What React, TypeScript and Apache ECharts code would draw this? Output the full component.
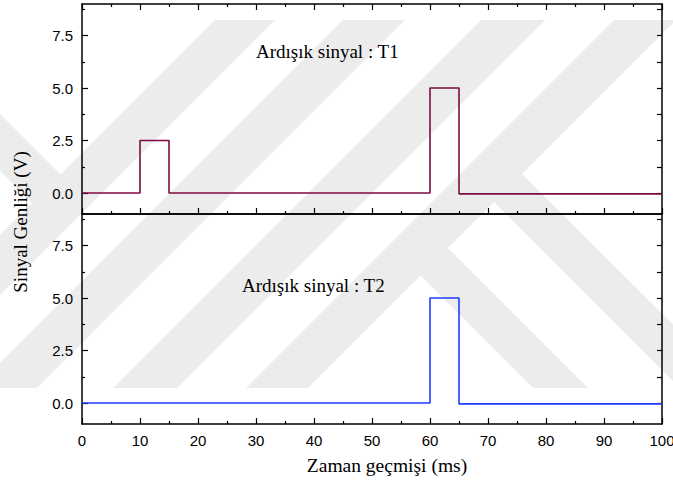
import { useEffect, useRef } from "react";
import * as echarts from "echarts";

// Step signals (time in ms, amplitude in V)
const timeT1 = [0, 10, 10, 15, 15, 60, 60, 65, 65, 100];
const voltT1 = [0, 0, 2.5, 2.5, 0, 0, 5, 5, -0.04, -0.04];
const timeT2 = [0, 60, 60, 65, 65, 100];
const voltT2 = [0, 0, 5, 5, -0.04, -0.04];

// Axis ticks
const yLabelValues = [0, 2.5, 5, 7.5];
const yMinorValues = [1.25, 3.75, 6.25, 8.75];
const yAllTicks = [0, 1.25, 2.5, 3.75, 5, 6.25, 7.5, 8.75];

const panelTitles = ["Ardışık sinyal : T1", "Ardışık sinyal : T2"];
const xAxisTitle = "Zaman geçmişi (ms)";
const yAxisTitle = "Sinyal Genliği (V)";

// Light background stripes (decorative)
const backdropBands: number[][][] = [
  [[215, 20], [275, 20], [-93, 388], [-153, 388]],
  [[343, 20], [405, 20], [37, 388], [-25, 388]],
  [[481, 20], [545, 20], [177, 388], [113, 388]],
  [[614, 20], [676, 20], [308, 388], [246, 388]],
  [[393, 248], [448, 248], [588, 388], [533, 388]],
  [[466, 174], [522, 174], [730, 381], [673, 381]],
  [[0, 114], [90, 204], [33, 204], [0, 171]],
];

const INK = "#000";
const SANS = "Liberation Sans";
const SERIF = "Liberation Serif";

function xAxisFor(grid: number, pos: "top" | "bottom", labels: boolean, ticks: boolean) {
  return {
    type: "value",
    gridIndex: grid,
    position: pos,
    min: 0,
    max: 100,
    interval: 10,
    splitLine: { show: false },
    axisLine: { show: true, onZero: false, lineStyle: { color: INK, width: 1.5 } },
    axisTick: { show: ticks, inside: true, length: 6, lineStyle: { color: INK, width: 1.2 } },
    minorTick: { show: ticks, splitNumber: 2, length: 3, lineStyle: { color: INK, width: 1.2 } },
    axisLabel: {
      show: labels,
      color: INK,
      fontFamily: SANS,
      fontSize: 15,
      margin: 9,
    },
  };
}

function yAxesFor(grid: number) {
  const base = {
    type: "value",
    gridIndex: grid,
    min: -1,
    max: 9,
    splitLine: { show: false },
  };
  return [
    {
      ...base,
      position: "left",
      axisLine: { show: true, onZero: false, lineStyle: { color: INK, width: 1.5 } },
      axisTick: {
        show: true,
        inside: true,
        length: 6,
        customValues: yLabelValues,
        lineStyle: { color: INK, width: 1.2 },
      },
      axisLabel: {
        show: true,
        customValues: yLabelValues,
        formatter: (v: number) => v.toFixed(1),
        color: INK,
        fontFamily: SANS,
        fontSize: 15,
        margin: 9,
      },
    },
    {
      ...base,
      position: "left",
      axisLine: { show: false },
      axisTick: {
        show: true,
        inside: true,
        length: 3,
        customValues: yMinorValues,
        lineStyle: { color: INK, width: 1.2 },
      },
      axisLabel: { show: false },
    },
    {
      ...base,
      position: "right",
      axisLine: { show: true, onZero: false, lineStyle: { color: INK, width: 1.5 } },
      axisTick: {
        show: true,
        inside: true,
        length: 5,
        customValues: yAllTicks,
        lineStyle: { color: INK, width: 1.2 },
      },
      axisLabel: { show: false },
    },
  ];
}

function serifText(text: string, x: number, y: number, size: number, extra: any = {}) {
  const { align, ...rest } = extra;
  return {
    type: "text",
    x,
    y,
    ...rest,
    style: {
      text,
      fill: INK,
      fontFamily: SERIF,
      fontSize: size,
      verticalAlign: "middle",
      align: align || "left",
    },
  };
}

export default function App() {
  const ref = useRef<HTMLDivElement>(null);

  useEffect(() => {
    if (!ref.current) return;
    const chart = echarts.init(ref.current, null, { renderer: "svg" });

    const bandGraphics = backdropBands.map((pts) => ({
      type: "polygon",
      silent: true,
      z: -100,
      shape: { points: pts },
      style: { fill: "#ececec" },
    }));

    chart.setOption({
      animation: false,
      backgroundColor: "#fff",
      grid: [
        { left: 82, right: 11, top: 4, height: 210, outerBoundsMode: "none" },
        { left: 82, right: 11, top: 214, height: 210, outerBoundsMode: "none" },
      ],
      xAxis: [
        xAxisFor(0, "bottom", false, true),
        xAxisFor(0, "top", false, true),
        xAxisFor(1, "bottom", true, true),
        xAxisFor(1, "top", false, false),
      ],
      yAxis: [...yAxesFor(0), ...yAxesFor(1)],
      series: [
        {
          name: "T1",
          type: "line",
          xAxisIndex: 0,
          yAxisIndex: 0,
          data: timeT1.map((t, i) => [t, voltT1[i]]),
          showSymbol: false,
          lineStyle: { color: "#7d0a42", width: 1.6 },
          itemStyle: { color: "#7d0a42" },
          z: 5,
        },
        {
          name: "T2",
          type: "line",
          xAxisIndex: 2,
          yAxisIndex: 3,
          data: timeT2.map((t, i) => [t, voltT2[i]]),
          showSymbol: false,
          lineStyle: { color: "#1e3cff", width: 1.6 },
          itemStyle: { color: "#1e3cff" },
          z: 5,
        },
      ],
      graphic: [
        ...bandGraphics,
        serifText(panelTitles[0], 256, 51, 19),
        serifText(panelTitles[1], 242, 285, 19),
        serifText(xAxisTitle, 387, 465, 19.5, { align: "center" }),
        serifText(yAxisTitle, 20, 222, 19, { align: "center", rotation: Math.PI / 2 }),
      ],
    });

    return () => chart.dispose();
  }, []);

  return (
    <div
      ref={ref}
      style={{ position: "fixed", left: 0, top: 0, width: 673, height: 481 }}
    />
  );
}
